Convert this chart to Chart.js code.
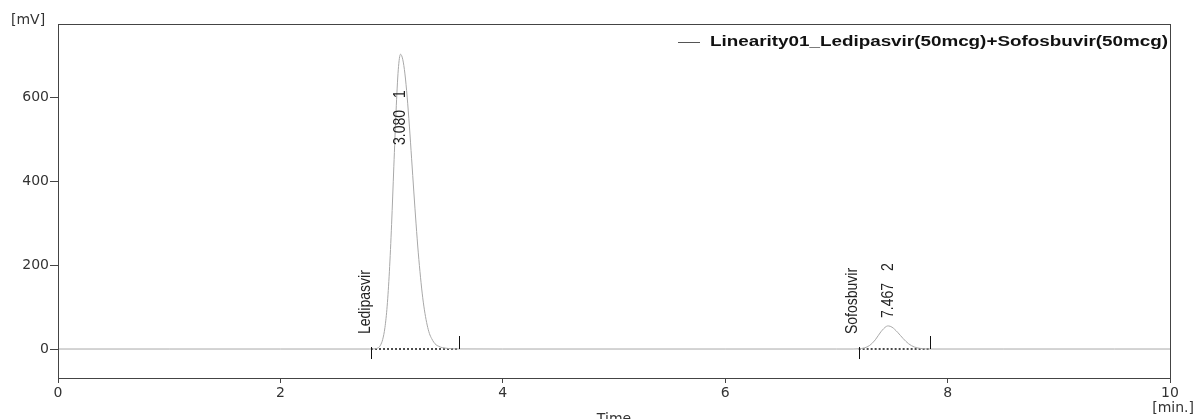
<!DOCTYPE html>
<html>
<head>
<meta charset="utf-8">
<script src="https://cdn.jsdelivr.net/npm/chart.js@4"></script>
<style>
  html, body { margin: 0; padding: 0; background: #fff; }
  #wrap { width: 1196px; height: 419px; }
</style>
</head>
<body>
<div id="wrap"><canvas id="myChart" width="1196" height="419"></canvas></div>
<script>
// chromatogram trace
const timeMin = [
  0, 1.0, 2.0, 2.80, 2.84, 2.86, 2.88, 2.90, 2.92, 2.94, 2.96, 2.98,
  3.00, 3.02, 3.04, 3.06, 3.08, 3.10, 3.12, 3.14, 3.16, 3.18, 3.20,
  3.22, 3.24, 3.26, 3.28, 3.30, 3.32, 3.34, 3.36, 3.38, 3.40, 3.42,
  3.44, 3.46, 3.50, 3.55, 3.60, 4.0, 5.0, 6.0, 7.0, 7.15,
  7.20, 7.25, 7.30, 7.35, 7.40, 7.45, 7.467, 7.50, 7.55, 7.60, 7.65,
  7.70, 7.75, 7.80, 7.85, 8.5, 9.5, 10
];
const signalMv = [
  0, 0, 0, 0, 0.3, 1, 3, 9, 23, 51, 102, 184,
  297, 434, 566, 665, 702, 690, 655, 600, 531, 453, 374,
  298, 229, 171, 122, 85, 57, 37, 25, 16, 10, 7,
  4.5, 3, 1.5, 0.5, 0.2, 0, 0, 0, 0, 0,
  0.5, 2.5, 8.7, 22, 41, 54, 55, 52, 40, 25, 12.4,
  4.9, 1.6, 0.5, 0, 0, 0, 0
];

// integrated peaks
const peakNames = ["Ledipasvir", "Sofosbuvir"];
const peakNumbers = ["1", "2"];
const peakRetention = [3.080, 7.467];
const peakStart = [2.815, 7.20];
const peakEnd = [3.605, 7.84];

const yTicks = [0, 200, 400, 600];
const xTicks = [0, 2, 4, 6, 8, 10];
const legendLabel = "Linearity01_Ledipasvir(50mcg)+Sofosbuvir(50mcg)";

// where the retention-time labels start (mV)
const rtLabelFromMv = [486, 74];

const trace = timeMin.map((t, i) => ({ x: t, y: signalMv[i] }));
const baselines = [];
peakStart.forEach((s, i) => {
  baselines.push({ x: s, y: 0 }, { x: peakEnd[i], y: 0 }, { x: peakEnd[i], y: null });
});

const annotate = {
  id: "annotate",
  afterDatasetsDraw(chart) {
    const { ctx, chartArea, scales } = chart;
    const xs = scales.x, ys = scales.y;
    const zero = ys.getPixelForValue(0);
    ctx.save();

    // frame
    ctx.strokeStyle = "#444";
    ctx.lineWidth = 1;
    ctx.strokeRect(chartArea.left + 0.5, chartArea.top + 0.5,
      chartArea.right - chartArea.left, chartArea.bottom - chartArea.top);

    // start / end markers
    ctx.strokeStyle = "#111";
    ctx.beginPath();
    peakStart.forEach((s, i) => {
      const a = Math.round(xs.getPixelForValue(s)) + 0.5;
      ctx.moveTo(a, zero - 2); ctx.lineTo(a, zero + 10);
      const b = Math.round(xs.getPixelForValue(peakEnd[i])) + 0.5;
      ctx.moveTo(b, zero - 13); ctx.lineTo(b, zero);
    });
    ctx.stroke();

    // rotated labels
    const vtext = (txt, x, y) => {
      ctx.save();
      ctx.translate(x, y);
      ctx.scale(1.2, 1);
      ctx.rotate(-Math.PI / 2);
      ctx.fillText(txt, 0, 0);
      ctx.restore();
    };
    ctx.fillStyle = "#222";
    ctx.font = "14px 'Liberation Sans', Arial, sans-serif";
    ctx.textAlign = "left";
    ctx.textBaseline = "middle";
    peakNames.forEach((name, i) => {
      vtext(name, xs.getPixelForValue(peakStart[i]) - 6, zero - 15);
      const cx = xs.getPixelForValue(peakRetention[i]);
      const y0 = ys.getPixelForValue(rtLabelFromMv[i]);
      const rt = peakRetention[i].toFixed(3);
      vtext(rt, cx, y0);
      const w = ctx.measureText(rt).width;
      vtext(peakNumbers[i], cx, y0 - w - 12);
    });

    // legend (text stretched like the original export)
    ctx.font = "bold 14px 'Liberation Sans', Arial, sans-serif";
    ctx.textAlign = "left";
    ctx.fillStyle = "#111";
    const lx = 710, ly = 42, lw = 458;
    const sx = lw / ctx.measureText(legendLabel).width;
    ctx.save();
    ctx.translate(lx, ly);
    ctx.scale(sx, 1);
    ctx.fillText(legendLabel, 0, 0);
    ctx.restore();
    ctx.strokeStyle = "#555";
    ctx.beginPath();
    ctx.moveTo(lx - 32, ly + 0.5); ctx.lineTo(lx - 10, ly + 0.5);
    ctx.stroke();

    // axis units and title
    ctx.font = "14px 'DejaVu Sans', sans-serif";
    ctx.fillStyle = "#333";
    ctx.textAlign = "left";
    ctx.textBaseline = "middle";
    ctx.fillText("[mV]", 11, 20);
    ctx.textAlign = "right";
    ctx.fillText("[min.]", 1194, 408);
    ctx.textAlign = "center";
    ctx.textBaseline = "alphabetic";
    ctx.fillText("Time", (chartArea.left + chartArea.right) / 2, 423);
    ctx.restore();
  }
};

new Chart(document.getElementById("myChart").getContext("2d"), {
  type: "line",
  data: {
    datasets: [
      {
        label: legendLabel,
        data: trace,
        borderColor: "#a8a8a8",
        borderWidth: 1,
        pointRadius: 0,
        cubicInterpolationMode: "monotone",
      },
      {
        label: "baseline",
        data: baselines,
        borderColor: "#111",
        borderWidth: 1.5,
        borderDash: [2, 2],
        pointRadius: 0,
        spanGaps: false,
      },
    ],
  },
  options: {
    responsive: false,
    animation: false,
    layout: { padding: { top: 24, right: 26, left: 0, bottom: 0 } },
    plugins: { legend: { display: false }, tooltip: { enabled: false } },
    scales: {
      x: {
        type: "linear",
        min: 0,
        max: 10,
        afterBuildTicks: (s) => { s.ticks = xTicks.map((v) => ({ value: v })); },
        afterFit: (s) => { s.height = 41; },
        grid: { drawOnChartArea: false, tickLength: 5, tickColor: "#444" },
        border: { color: "#444" },
        ticks: { color: "#333", padding: 2, maxRotation: 0, font: { family: "'DejaVu Sans'", size: 14 } },
      },
      y: {
        type: "linear",
        min: -69,
        max: 774,
        afterBuildTicks: (s) => { s.ticks = yTicks.map((v) => ({ value: v })); },
        afterFit: (s) => { s.width = 58; },
        grid: { drawOnChartArea: false, tickLength: 8, tickColor: "#444" },
        border: { color: "#444" },
        ticks: { color: "#333", padding: 1, font: { family: "'DejaVu Sans'", size: 14 } },
      },
    },
  },
  plugins: [annotate],
});
</script>
</body>
</html>
